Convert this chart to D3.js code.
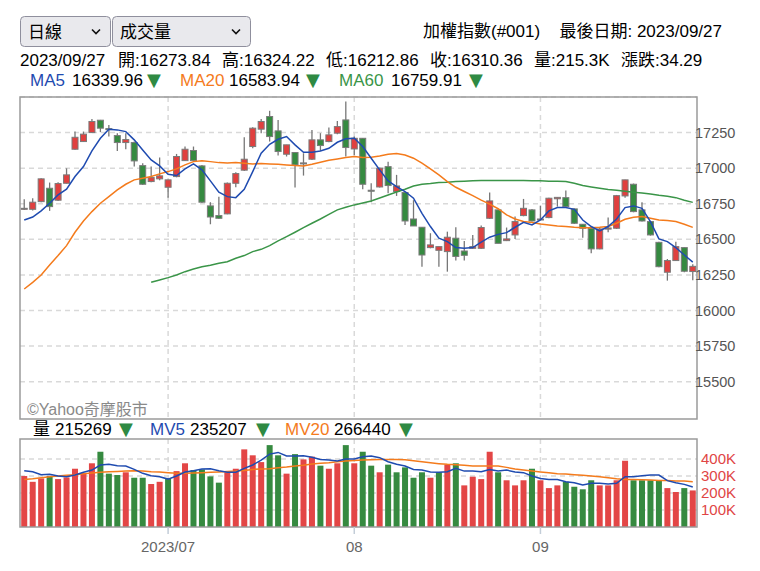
<!DOCTYPE html>
<html><head><meta charset="utf-8">
<script src="https://cdn.jsdelivr.net/npm/d3@7"></script>
<style>
html,body{margin:0;padding:0;background:#fff;}
svg{display:block;font-family:"Liberation Sans",Arial,"Noto Sans CJK TC",sans-serif;}
</style></head>
<body><svg id="c" width="760" height="571"></svg>
<script>
// ---- data (index 0..79 = trading days, 2023/06 .. 2023/09/27) ----
const opens  = [16712,16711,16765,16859,16775,16894,17133,17187,17250,17337,17278,17229,17180,17180,17018,16906,16925,16866,16941,17053,17124,17016,16735,16667,16679,16894,16986,17152,
17274,17363,17262,17098,17110,17032,17063,17199,17187,17246,17339,17135,17210,16845,16868,17011,16836,16829,16643,16585,16442,16423,16414,16508,16418,16437,
16437,16648,16707,16491,16531,16667,16707,16639,16653,16785,16793,16714,16606,16578,16433,16572,16578,16805,16887,16707,16625,16479,16269,16351,16442,16273.84];
const highs  = [16782,16789,16929,16899,16901,16999,17257,17257,17346,17339,17304,17246,17246,17187,17035,17011,17075,16918,17100,17152,17152,17023,16761,16800,16899,16971,17217,17288,
17346,17403,17339,17164,17112,17105,17269,17246,17285,17332,17468,17222,17212,16894,17004,17046,16953,16831,16775,16587,16543,16449,16554,16585,16488,16531,
16597,16829,16710,16583,16660,16784,16714,16735,16793,16797,16843,16716,16608,16583,16583,16653,16812,16918,16892,16761,16628,16484,16362,16484,16445,16324.22];
const lows   = [16706,16702,16761,16700,16770,16892,17129,17185,17248,17253,17222,17121,17133,17011,16882,16901,16915,16793,16936,17051,17051,16756,16606,16643,16676,16866,16981,17140,
17246,17187,17089,17082,16864,16948,17058,17121,17182,17239,17082,17093,16852,16761,16864,16824,16805,16601,16594,16308,16437,16308,16273,16351,16351,16433,
16433,16643,16472,16488,16503,16662,16625,16636,16648,16730,16725,16608,16512,16402,16430,16550,16573,16793,16690,16625,16526,16304,16210,16348,16269,16212.86];
const closes = [16718,16761,16925,16730,16892,16953,17217,17239,17328,17281,17271,17180,17201,17051,16887,16934,16946,16918,17082,17133,17053,16761,16657,16648,16894,16962,17063,17281,
17328,17222,17117,17164,17023,17037,17199,17159,17234,17292,17145,17210,16887,16840,17000,16878,16875,16629,16594,16390,16461,16449,16515,16380,16388,16449,
16583,16770,16472,16503,16625,16718,16629,16643,16789,16795,16730,16613,16578,16433,16573,16580,16807,16918,16695,16629,16531,16308,16351,16449,16276.07,16310.36];
const volumes = [300,266,286,300,282,292,343,316,375,443,314,306,322,290,290,253,266,286,329,375,335,339,298,261,322,343,457,
422,382,482,422,314,429,398,414,361,343,375,482,375,443,361,322,367,322,351,290,322,290,322,367,375,245,296,
282,443,322,275,245,275,343,275,229,245,266,237,222,275,245,245,275,390,275,275,275,275,229,206,229,215.269];
const ma5  = [16636,16657,16700,16754,16812,16852,16941,17011,17121,17210,17274,17269,17257,17199,17128,17058,17016,16957,16948,16995,17030,16988,16911,16831,16800,16793,16852,16976,
17105,17168,17203,17222,17164,17112,17112,17121,17140,17182,17206,17210,17152,17070,16988,16911,16871,16836,16789,16683,16590,16508,16484,16442,16437,16442,
16480,16515,16535,16547,16585,16620,16601,16636,16700,16723,16723,16711,16636,16590,16559,16590,16643,16723,16735,16718,16625,16503,16484,16442,16390,16339.96];
const ma20 = [16151,16198,16250,16320,16386,16456,16550,16629,16695,16754,16800,16847,16887,16918,16929,16941,16960,16976,16995,17023,17046,17053,17046,17039,17037,17039,17035,17030,
17032,17030,17028,17023,17018,17016,17028,17042,17056,17065,17075,17082,17075,17077,17086,17098,17103,17093,17070,17035,16995,16953,16906,16866,16836,16807,
16776,16748,16715,16672,16643,16625,16618,16608,16601,16594,16590,16585,16582,16582,16585,16590,16613,16641,16655,16660,16648,16636,16632,16625,16606,16583.94];
const ma60 = [null,null,null,null,null,null,null,null,null,null,null,null,null,null,null,16198,16215,16231,16250,16273,16292,16308,16318,16332,16343,16367,16386,16414,
16430,16456,16489,16519,16550,16582,16613,16643,16676,16707,16725,16742,16756,16770,16791,16812,16833,16852,16875,16887,16892,16899,16901,16906,16908,16911,
16913,16913,16913,16913,16913,16913,16911,16911,16908,16908,16906,16894,16878,16868,16859,16850,16845,16838,16831,16826,16819,16810,16803,16793,16775,16759.91];
const mv5  = [331,325,308,310,300,296,306,322,335,365,369,361,359,339,316,302,296,282,300,324,331,341,343,331,322,322,345,
365,394,429,439,418,418,420,410,398,394,388,400,400,414,418,408,384,369,359,339,335,324,322,325,345,329,329,
325,339,329,335,324,320,300,286,280,280,267,261,247,257,257,253,257,296,296,302,306,306,273,261,251,235.207];
const mv20 = [280,284,290,296,300,304,308,314,318,322,325,327,329,331,329,325,324,320,316,316,318,320,322,324,327,329,333,
339,341,343,349,353,359,363,371,375,378,384,388,392,394,396,398,398,398,396,390,384,378,373,369,367,363,359,
359,359,359,351,341,335,329,324,320,314,312,308,304,300,296,290,284,280,280,278,276,273,273,271,271,266.44];
const monthTickIdx = [17, 39, 61];
const monthTickLabels = ["2023/07", "08", "09"];
const priceTicks = [15500,15750,16000,16250,16500,16750,17000,17250,17500];
const volTicks = [100,200,300,400];

// ---- layout ----
const svg = d3.select("#c");
const L = 20, R = 697, T = 97, B = 419, VT = 439, VB = 527;
const RED = "#e0403f", GREEN = "#358a40", GRID = "#d9d9d9";
const C_MA5 = "#1f4bb0", C_MA20 = "#f47b1c", C_MA60 = "#3a9548";

const n = closes.length;
const x = d3.scaleBand().domain(d3.range(n)).range([L, R]);
const cx = i => x(i) + x.bandwidth() / 2;
const y = d3.scaleLinear().domain([15238, 17500]).range([B, T]);
const yv = d3.scaleLinear().domain([0, 518]).range([VB, VT]);

// ---- header ----
function sel(x0, w, label) {
  const g = svg.append("g");
  g.append("rect").attr("x", x0 + 0.5).attr("y", 16.5).attr("width", w).attr("height", 30)
    .attr("rx", 4).attr("fill", "#e9e9ed").attr("stroke", "#8f8f9d");
  g.append("text").attr("x", x0 + 8).attr("y", 38).attr("font-size", 17).attr("fill", "#000").text(label);
  const cxv = x0 + w - 14;
  g.append("path").attr("d", `M${cxv - 4},29.5 L${cxv},33.5 L${cxv + 4},29.5`)
    .attr("fill", "none").attr("stroke", "#111").attr("stroke-width", 1.6);
}
sel(20, 90, "日線");
sel(112, 138, "成交量");

svg.append("text").attr("x", 423).attr("y", 37).attr("font-size", 17).text("加權指數(#001)");
svg.append("text").attr("x", 722).attr("y", 37).attr("font-size", 17).attr("text-anchor", "end").text("最後日期: 2023/09/27");

const last = n - 1;
const info = [
  [20, "2023/09/27"],
  [118, "開:" + opens[last].toFixed(2)],
  [222, "高:" + highs[last].toFixed(2)],
  [326, "低:" + lows[last].toFixed(2)],
  [430, "收:" + closes[last].toFixed(2)],
  [534, "量:" + volumes[last].toFixed(1) + "K"],
  [621, "漲跌:" + (closes[last] - closes[last - 1]).toFixed(2)]
];
info.forEach(([xx, t]) => svg.append("text").attr("x", xx).attr("y", 66).attr("font-size", 17).text(t));

function legendItem(xName, name, color, xVal, val, xTri, yy) {
  svg.append("text").attr("x", xName).attr("y", yy).attr("font-size", 17).attr("fill", color).text(name);
  svg.append("text").attr("x", xVal).attr("y", yy).attr("font-size", 17).attr("fill", "#000").text(val);
  svg.append("text").attr("x", xTri).attr("y", yy).attr("font-size", 18).attr("fill", "#2f8a43")
    .attr("font-family", "DejaVu Sans").text("▼");
}
legendItem(30, "MA5", C_MA5, 72, ma5[last].toFixed(2), 147, 86);
legendItem(180, "MA20", C_MA20, 229, ma20[last].toFixed(2), 306, 86);
legendItem(339, "MA60", C_MA60, 391, ma60[last].toFixed(2), 469, 86);

legendItem(33, "量", "#000", 55, String(Math.round(volumes[last] * 1000)), 119, 435);
legendItem(150, "MV5", C_MA5, 190, String(Math.round(mv5[last] * 1000)), 256, 435);
legendItem(285, "MV20", C_MA20, 334, String(Math.round(mv20[last] * 1000)), 399, 435);

// ---- clip paths ----
const defs = svg.append("defs");
defs.append("clipPath").attr("id", "cp").append("rect").attr("x", L).attr("y", T).attr("width", R - L).attr("height", B - T);
defs.append("clipPath").attr("id", "cv").append("rect").attr("x", L).attr("y", VT).attr("width", R - L).attr("height", VB - VT);

// ---- price panel ----
const gp = svg.append("g");
gp.selectAll("line.hg").data(priceTicks).join("line")
  .attr("x1", L).attr("x2", R).attr("y1", d => y(d)).attr("y2", d => y(d))
  .attr("stroke", GRID).attr("stroke-width", 1.5).attr("stroke-dasharray", "5,4");
gp.selectAll("line.vg").data(monthTickIdx).join("line")
  .attr("x1", d => cx(d)).attr("x2", d => cx(d)).attr("y1", T).attr("y2", B)
  .attr("stroke", GRID).attr("stroke-width", 1.5).attr("stroke-dasharray", "5,4");

svg.append("text").attr("x", 27).attr("y", 415).attr("font-size", 16).attr("fill", "#8a8a8a").text("©Yahoo奇摩股市");

const gc = svg.append("g").attr("clip-path", "url(#cp)");
const idx = d3.range(n);
gc.selectAll("line.wick").data(idx).join("line")
  .attr("x1", cx).attr("x2", cx).attr("y1", i => y(highs[i])).attr("y2", i => y(lows[i]))
  .attr("stroke", "#777").attr("stroke-width", 1.3);
gc.selectAll("rect.body").data(idx).join("rect")
  .attr("x", i => cx(i) - 3).attr("width", 6)
  .attr("y", i => y(Math.max(opens[i], closes[i])))
  .attr("height", i => Math.max(1, Math.abs(y(opens[i]) - y(closes[i]))))
  .attr("fill", i => closes[i] >= opens[i] ? RED : GREEN)
  .attr("stroke", "#7a7a7a").attr("stroke-width", 1);

const line = arr => d3.line().defined(i => arr[i] != null).x(cx).y(i => y(arr[i])).curve(d3.curveLinear)(idx);
gc.append("path").attr("d", line(ma60)).attr("fill", "none").attr("stroke", C_MA60).attr("stroke-width", 1.5);
gc.append("path").attr("d", line(ma20)).attr("fill", "none").attr("stroke", C_MA20).attr("stroke-width", 1.5);
gc.append("path").attr("d", line(ma5)).attr("fill", "none").attr("stroke", C_MA5).attr("stroke-width", 1.5);

svg.append("rect").attr("x", L).attr("y", T).attr("width", R - L).attr("height", B - T)
  .attr("fill", "none").attr("stroke", "#9a9a9a").attr("stroke-width", 1.5);

const ay = svg.append("g").attr("transform", `translate(${R - 3},0)`)
  .call(d3.axisRight(y).tickValues(priceTicks.filter(d => d < 17500)).tickSize(0).tickPadding(1).tickFormat(d3.format("d")));
ay.select(".domain").remove();
ay.selectAll("text").attr("font-size", 14.5).attr("fill", "#555").attr("font-family", "Liberation Sans, Arial, sans-serif");

// ---- volume panel ----
const gv = svg.append("g");
gv.selectAll("line.hg").data(volTicks).join("line")
  .attr("x1", L).attr("x2", R).attr("y1", d => yv(d)).attr("y2", d => yv(d))
  .attr("stroke", GRID).attr("stroke-width", 1.5).attr("stroke-dasharray", "5,4");
gv.selectAll("line.vg").data(monthTickIdx).join("line")
  .attr("x1", d => cx(d)).attr("x2", d => cx(d)).attr("y1", VT).attr("y2", VB)
  .attr("stroke", GRID).attr("stroke-width", 1.5).attr("stroke-dasharray", "5,4");

const gvb = svg.append("g").attr("clip-path", "url(#cv)");
gvb.selectAll("rect.vol").data(idx).join("rect")
  .attr("x", i => cx(i) - 3).attr("width", 6)
  .attr("y", i => yv(volumes[i])).attr("height", i => VB - yv(volumes[i]))
  .attr("fill", i => (i === 0 || closes[i] >= closes[i - 1]) ? "#e34646" : "#368a40");
const vline = arr => d3.line().x(cx).y(i => yv(arr[i]))(idx);
gvb.append("path").attr("d", vline(mv20)).attr("fill", "none").attr("stroke", C_MA20).attr("stroke-width", 1.5);
gvb.append("path").attr("d", vline(mv5)).attr("fill", "none").attr("stroke", C_MA5).attr("stroke-width", 1.5);

svg.append("rect").attr("x", L).attr("y", VT).attr("width", R - L).attr("height", VB - VT)
  .attr("fill", "none").attr("stroke", "#9a9a9a").attr("stroke-width", 1.5);

const av = svg.append("g").attr("transform", `translate(${R},0)`)
  .call(d3.axisRight(yv).tickValues(volTicks).tickSize(0).tickPadding(4).tickFormat(d => d + "K"));
av.select(".domain").remove();
av.selectAll("text").attr("font-size", 15).attr("fill", "#e04545").attr("font-family", "Liberation Sans, Arial, sans-serif");

// ---- x axis (month ticks at trading-day indices) ----
const xt = svg.append("g").attr("transform", `translate(0,${VB})`);
const axisX = d3.axisBottom(d3.scalePoint().domain(monthTickLabels).range([0, 1]))
  .tickSize(7).tickPadding(7);
xt.call(axisX);
xt.select(".domain").remove();
xt.selectAll(".tick").attr("transform", (d, k) => `translate(${cx(monthTickIdx[k])},0)`);
xt.selectAll(".tick line").attr("stroke", "#c3cdd8").attr("stroke-width", 1.5);
xt.selectAll(".tick text").attr("font-size", 15).attr("fill", "#666").attr("font-family", "Liberation Sans, Arial, sans-serif");
</script></body></html>
